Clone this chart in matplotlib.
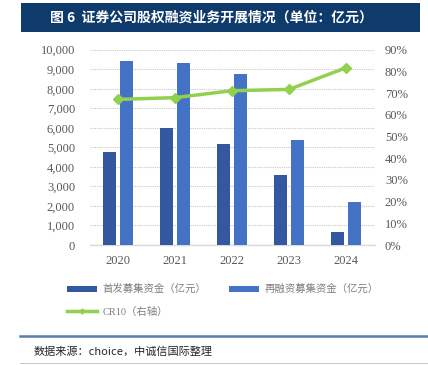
import matplotlib
matplotlib.use("Agg")
import matplotlib.pyplot as plt
import numpy as np
from matplotlib.patches import Rectangle, Patch
from matplotlib.lines import Line2D
from matplotlib.ticker import FuncFormatter, MultipleLocator

plt.rcParams['font.family'] = ['Noto Sans CJK SC', 'DejaVu Sans']

years = ["2020", "2021", "2022", "2023", "2024"]
ipo = [4780, 5970, 5190, 3570, 670]
refin = [9400, 9320, 8740, 5380, 2190]
cr10 = [0.671, 0.679, 0.711, 0.717, 0.817]

title = "图 6  证券公司股权融资业务开展情况（单位：亿元）"
source = "数据来源：choice，中诚信国际整理"
lab_ipo = "首发募集资金（亿元）"
lab_ref = "再融资募集资金（亿元）"
lab_cr = "CR10（右轴）"

W, H = 428, 365
fig = plt.figure(figsize=(W/100, H/100), dpi=100)

def fx(px): return px / W
def fy(py): return 1 - py / H

# title band
fig.patches.append(Rectangle((fx(21), fy(32)), fx(420) - fx(21), fy(3) - fy(32),
                             transform=fig.transFigure, facecolor="#0e3a6c", edgecolor="none"))
fig.text(fx(50), fy(17.5), title, color="white", fontsize=10, fontweight="bold",
         va="center", ha="left")

ax = fig.add_axes([fx(89.5), fy(245), fx(374.5) - fx(89.5), fy(49.7) - fy(245)])
x = np.arange(len(years))
bw = 0.222
off = 0.146
c_dark = "#34589f"
c_light = "#4472c4"
ax.bar(x - off, ipo, bw, color=c_dark, zorder=3)
ax.bar(x + off, refin, bw, color=c_light, zorder=3)
ax.set_xlim(-0.5, 4.5)
ax.set_ylim(0, 10000)
ax.yaxis.set_major_locator(MultipleLocator(1000))
ax.yaxis.set_major_formatter(FuncFormatter(lambda v, p: f"{int(v):,}"))
ax.grid(axis="y", color="#c8c8c8", linestyle=(0, (1, 1)), linewidth=0.8, zorder=0)
for s in ["top", "right", "left"]:
    ax.spines[s].set_visible(False)
ax.spines["bottom"].set_color("#d9d9d9")
ax.spines["bottom"].set_linewidth(1.0)
ax.set_xticks(x)
ax.set_xticklabels(years)
ax.tick_params(axis="both", length=0, labelsize=9, labelcolor="#595959")
ax.tick_params(axis="x", pad=7.5)
ax.tick_params(axis="y", pad=10.4)
for t in ax.get_xticklabels() + ax.get_yticklabels():
    t.set_family("Liberation Serif")

ax2 = ax.twinx()
ax2.plot(x, cr10, color="#92d050", linewidth=2.5, marker="D", markersize=5, zorder=5)
ax2.set_ylim(0, 0.9)
ax2.yaxis.set_major_locator(MultipleLocator(0.1))
ax2.yaxis.set_major_formatter(FuncFormatter(lambda v, p: f"{v*100:.0f}%"))
for s in ["top", "right", "left", "bottom"]:
    ax2.spines[s].set_visible(False)
ax2.tick_params(axis="y", length=0, labelsize=9, labelcolor="#595959", pad=7.5)
for t in ax2.get_yticklabels():
    t.set_family("Liberation Serif")

handles = [Patch(facecolor=c_dark), Line2D([], [], color="#92d050", linewidth=2.5, marker="D", markersize=2.5),
           Patch(facecolor=c_light)]
labels = [lab_ipo, lab_cr, lab_ref]
leg = fig.legend(handles, labels, loc="upper left", bbox_to_anchor=(fx(67), fy(284)),
                 ncol=2, frameon=False, fontsize=7.5, handlelength=2.9, handleheight=0.5,
                 handletextpad=0.5, columnspacing=2.2, labelspacing=1.2, borderaxespad=0,
                 borderpad=0)
for t in leg.get_texts():
    t.set_color("#7f7f7f")
    t.set_family(["Noto Sans CJK SC", "DejaVu Sans"])
leg.get_texts()[1].set_family(["Liberation Serif", "Noto Sans CJK SC"])

# separator
fig.add_artist(Line2D([fx(20), fx(428)], [fy(336), fy(336)], transform=fig.transFigure,
                      color="#5b7fa6", linewidth=1.8))
fig.add_artist(Line2D([fx(20), fx(428)], [fy(363), fy(363)], transform=fig.transFigure,
                      color="#bfbfbf", linewidth=0.6))
fig.text(fx(34), fy(351), source, fontsize=8, style="italic", color="#262626",
         va="center", ha="left", family=["Noto Sans CJK SC", "DejaVu Sans"])

fig.savefig("out.png", dpi=100, facecolor="white")
